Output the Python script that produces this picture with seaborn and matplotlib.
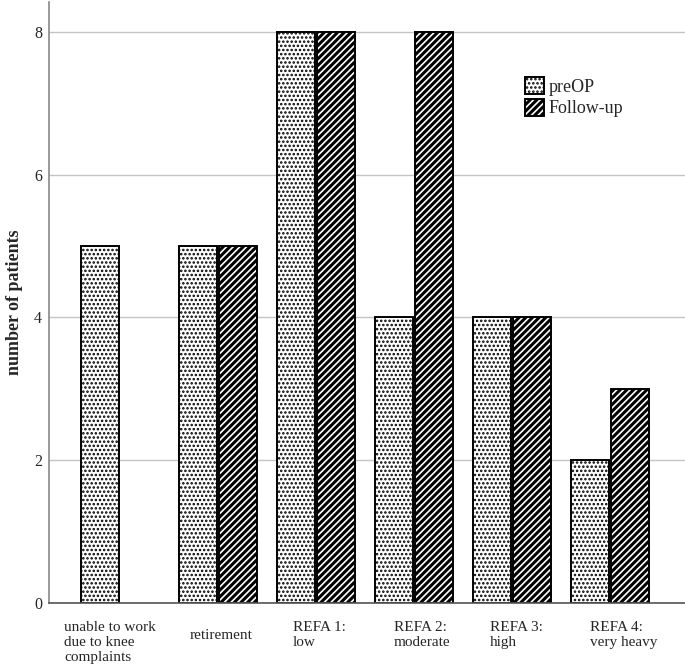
import numpy as np
import pandas as pd
import matplotlib
matplotlib.use('Agg')
import matplotlib.pyplot as plt
import matplotlib.patches as mpatches
import matplotlib.transforms as mtransforms
import seaborn as sns

# data
categories = ["unable to work\ndue to knee\ncomplaints", "retirement",
              "REFA 1:\nlow", "REFA 2:\nmoderate", "REFA 3:\nhigh",
              "REFA 4:\nvery heavy"]
groups = ["preOP", "Follow-up"]
preop = [5, 5, 8, 4, 4, 2]
followup = [0, 5, 8, 8, 4, 3]
yticks = [0, 2, 4, 6, 8]

df = pd.DataFrame({
    'category': categories * 2,
    'group': [groups[0]] * len(categories) + [groups[1]] * len(categories),
    'patients': preop + followup,
})

sns.set_style("white")
plt.rcParams['font.family'] = ['Liberation Serif', 'DejaVu Serif']
plt.rcParams['hatch.linewidth'] = 1.2

fig, ax = plt.subplots(figsize=(6.85, 6.66), dpi=100)
fig.subplots_adjust(left=49/685, right=1.0, top=1 - 2/666, bottom=1 - 603/666)

sns.barplot(data=df, x='category', y='patients', hue='group', order=categories,
            hue_order=groups, width=0.82, gap=0.06, ax=ax, legend=False,
            palette=['white', 'black'], edgecolor='black', linewidth=1.4,
            saturation=1)

n = len(categories)
for i, p in enumerate(ax.patches[:2 * n]):
    if i < n:
        p.set_hatch('....')
        p.set_facecolor('white')
    else:
        p.set_hatch('/////')
        p.set_facecolor('black')
        p._hatch_color = (1, 1, 1, 1)
        if followup[i - n] == 0:
            p.set_visible(False)

ax.set_ylim(0, 8.42)
ax.set_xlim(-0.724, 5.765)
ax.set_yticks(yticks)
ax.yaxis.grid(True, color='#c4c4c4', linewidth=1.0)
ax.set_axisbelow(True)
ax.tick_params(axis='y', length=0, pad=5, labelsize=11.5)
ax.tick_params(axis='x', length=0, pad=13, labelsize=11)
for side in ['top', 'right']:
    ax.spines[side].set_visible(False)
ax.spines['left'].set_color('#888888')
ax.spines['bottom'].set_color('#555555')
ax.spines['left'].set_linewidth(1.2)
ax.spines['bottom'].set_linewidth(1.2)

ax.set_xlabel('')
ax.set_ylabel('number of patients', fontsize=13, fontweight='bold', labelpad=8)

# x labels: left aligned, shifted like the original layout
dx_px = [-56, -28, -23, -20, -22, -20]
dy_px = [0, -8, 0, 0, 0, 0]
ax.set_xticks(range(n))
ax.set_xticklabels(categories, ha='left', va='top', linespacing=1.22)
for lab, dx, dy in zip(ax.get_xticklabels(), dx_px, dy_px):
    off = mtransforms.ScaledTranslation(dx / 100, dy / 100, fig.dpi_scale_trans)
    lab.set_transform(lab.get_transform() + off)

# legend
h1 = mpatches.Patch(facecolor='white', edgecolor='black', hatch='....', linewidth=1.4)
h2 = mpatches.Patch(facecolor='black', edgecolor='black', hatch='/////', linewidth=1.4)
h2._hatch_color = (1, 1, 1, 1)
ax.legend([h1, h2], groups, loc='upper left', bbox_to_anchor=(0.748, 0.875),
          frameon=False, fontsize=13, handlelength=1.05, handleheight=1.1,
          handletextpad=0.25, labelspacing=0.15, borderpad=0, borderaxespad=0)

plt.savefig('out.png', dpi=100)
